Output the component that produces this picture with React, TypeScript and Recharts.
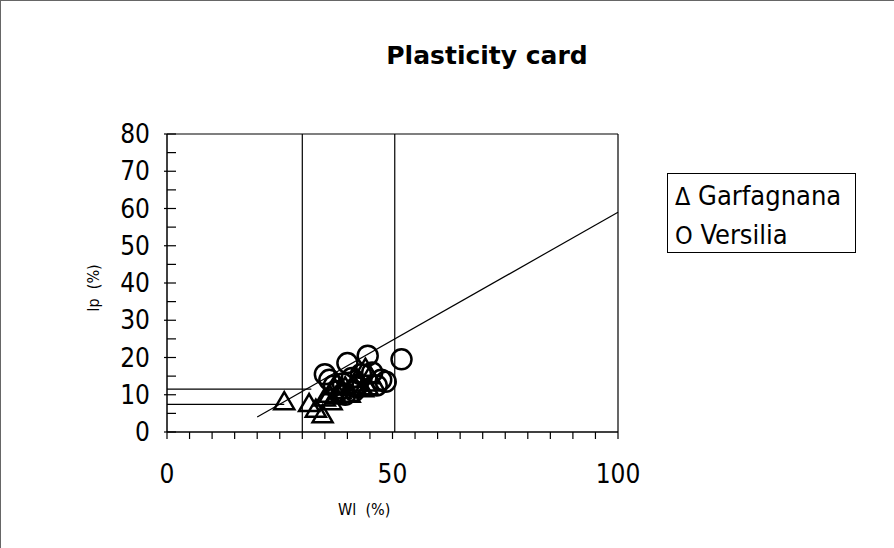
import { ScatterChart, Scatter, XAxis, YAxis, ReferenceLine } from "recharts";

const garfagnanaWl = [26, 31.5, 33, 34.5, 35, 36, 36.5, 37.5, 38.5, 39.5, 40.5, 41.5, 42.5, 43.5, 44.5, 45, 46, 44, 42, 37];
const garfagnanaIp = [8, 7.5, 6, 4.5, 9, 10, 8, 9.5, 11, 12, 10, 12.5, 13, 11.5, 12, 15, 13, 17, 14, 12];

const versiliaWl = [35, 36, 37, 38, 39, 40, 41, 42, 43, 44.5, 45.5, 46.5, 47.5, 48.5, 52, 39.5, 41.5];
const versiliaIp = [15.5, 14, 12.5, 11, 13, 18.5, 14.5, 12, 15.5, 20.5, 16, 12.5, 14, 13.5, 19.5, 10, 11];

const xTicks = [0, 5, 10, 15, 20, 25, 30, 35, 40, 45, 50, 55, 60, 65, 70, 75, 80, 85, 90, 95, 100];
const xLabels = [0, 50, 100];
const yTicks = [0, 5, 10, 15, 20, 25, 30, 35, 40, 45, 50, 55, 60, 65, 70, 75, 80];
const yLabels = [0, 10, 20, 30, 40, 50, 60, 70, 80];

// guide lines of the card
const limitLines = [30, 50.5];
const aLine = [
  { x: 20, y: 4 },
  { x: 100, y: 59 },
];
const lowLines = [
  { y: 11.5, toX: 32 },
  { y: 7.4, toX: 26 },
];

const seriesNames = ["Garfagnana", "Versilia"];
const seriesSymbols = ["Δ", "O"];

const garfagnana = garfagnanaWl.map((wl, i) => ({ wl, ip: garfagnanaIp[i] }));
const versilia = versiliaWl.map((wl, i) => ({ wl, ip: versiliaIp[i] }));

const font = "'DejaVu Sans Condensed', 'DejaVu Sans', sans-serif";

const Triangle = (props: any) => {
  const { cx, cy } = props;
  if (cx == null || cy == null) return null;
  return (
    <polygon
      points={`${cx},${cy - 10} ${cx - 10},${cy + 7} ${cx + 10},${cy + 7}`}
      fill="none"
      stroke="#000"
      strokeWidth={2.5}
    />
  );
};

const Circle = (props: any) => {
  const { cx, cy } = props;
  if (cx == null || cy == null) return null;
  return <circle cx={cx} cy={cy} r={10} fill="none" stroke="#000" strokeWidth={2.5} />;
};

const XTick = (props: any) => {
  const { x, y, payload } = props;
  const v = payload.value;
  return (
    <g>
      <line x1={x} y1={y} x2={x} y2={y + 7} stroke="#000" strokeWidth={1.2} />
      {xLabels.includes(v) && (
        <text x={x} y={y + 51} textAnchor="middle" fontSize={26} fontFamily={font} fill="#000">
          {v}
        </text>
      )}
    </g>
  );
};

const YTick = (props: any) => {
  const { x, y, payload } = props;
  const v = payload.value;
  const major = yLabels.includes(v);
  return (
    <g>
      <line x1={major ? x - 3 : x} y1={y} x2={x + 9} y2={y} stroke="#000" strokeWidth={1.2} />
      {major && (
        <text x={x - 17} y={y + 9} textAnchor="end" fontSize={26} fontFamily={font} fill="#000">
          {v}
        </text>
      )}
    </g>
  );
};

export default function App() {
  return (
    <div
      style={{
        position: "absolute",
        left: 0,
        top: 0,
        width: 894,
        height: 548,
        background: "#fff",
        borderLeft: "1px solid #666",
        borderTop: "1px solid #666",
        boxSizing: "border-box",
        fontFamily: font,
      }}
    >
      <div
        style={{
          position: "absolute",
          left: 486,
          top: 40,
          transform: "translateX(-50%)",
          whiteSpace: "nowrap",
          fontSize: 25,
          fontWeight: "bold",
          fontFamily: "'DejaVu Sans', sans-serif",
        }}
      >
        Plasticity card
      </div>
      <div style={{ position: "absolute", left: 337, top: 499, fontSize: 16 }}>
        Wl&nbsp;&nbsp;(%)
      </div>
      <div
        style={{
          position: "absolute",
          left: 92,
          top: 287,
          fontSize: 16,
          transform: "translate(-50%, -50%) rotate(-90deg)",
          whiteSpace: "nowrap",
        }}
      >
        Ip&nbsp;&nbsp;(%)
      </div>
      <div
        style={{
          position: "absolute",
          left: 666,
          top: 172,
          width: 189,
          height: 80,
          border: "1.5px solid #000",
          boxSizing: "border-box",
          fontSize: 27,
          lineHeight: "38px",
          padding: "3px 0 0 7px",
          color: "#000",
          background: "#fff",
          zIndex: 2,
        }}
      >
        {seriesNames.map((n, i) => (
          <div key={n} style={{ whiteSpace: "nowrap" }}>
            <span style={{ fontSize: 25 }}>{seriesSymbols[i]}</span> {n}
          </div>
        ))}
      </div>
      <div style={{ position: "absolute", left: -1, top: -1 }}>
        <ScatterChart
          width={894}
          height={548}
          margin={{ top: 134, right: 276, bottom: 86, left: 107 }}
        >
          <XAxis
            type="number"
            dataKey="wl"
            domain={[0, 100]}
            ticks={xTicks}
            interval={0}
            height={30}
            tickSize={0}
            tickMargin={0}
            tick={<XTick />}
            axisLine={{ stroke: "#000", strokeWidth: 1.5 }}
            allowDataOverflow
          />
          <YAxis
            type="number"
            dataKey="ip"
            domain={[0, 80]}
            ticks={yTicks}
            interval={0}
            width={60}
            tickSize={0}
            tickMargin={0}
            tick={<YTick />}
            axisLine={{ stroke: "#000", strokeWidth: 1.5 }}
            allowDataOverflow
          />
          <ReferenceLine y={80} stroke="#000" strokeWidth={1.2} />
          <ReferenceLine x={100} stroke="#000" strokeWidth={1.2} />
          {limitLines.map((x) => (
            <ReferenceLine key={x} x={x} stroke="#000" strokeWidth={1.2} />
          ))}
          {lowLines.map((l) => (
            <ReferenceLine
              key={l.y}
              segment={[
                { x: 0, y: l.y },
                { x: l.toX, y: l.y },
              ]}
              stroke="#000"
              strokeWidth={1.2}
            />
          ))}
          <ReferenceLine segment={aLine} stroke="#000" strokeWidth={1.2} />
          <Scatter name={seriesNames[0]} data={garfagnana} shape={<Triangle />} isAnimationActive={false} />
          <Scatter name={seriesNames[1]} data={versilia} shape={<Circle />} isAnimationActive={false} />
        </ScatterChart>
      </div>
    </div>
  );
}
